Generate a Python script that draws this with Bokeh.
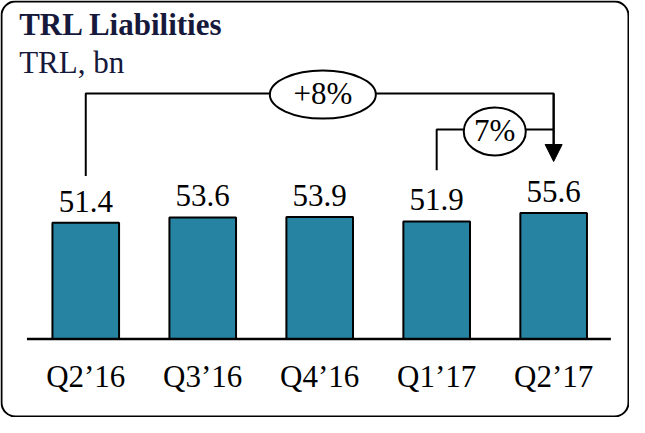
from bokeh.plotting import figure
from bokeh.models import ColumnDataSource, Range1d, Label, BoxAnnotation, Arrow, NormalHead
from bokeh.embed import file_html
from bokeh.resources import INLINE
from bokeh.core.properties import value

# ---- data ----
categories = ["Q2’16", "Q3’16", "Q4’16", "Q1’17", "Q2’17"]
values = [51.4, 53.6, 53.9, 51.9, 55.6]
value_labels = ["51.4", "53.6", "53.9", "51.9", "55.6"]
growth_labels = ["+8%", "7%"]
growth_from = [0, 3]   # category index where each bracket starts
growth_to = 4          # category index the brackets point at
title_text = "TRL Liabilities"
subtitle_text = "TRL, bn"

# ---- layout helpers ----
W, H = 629, 417
SX, SY = 627 / 640, 415 / 428          # reference layout -> canvas scale


def fx(px):   # reference x -> canvas x
    return 1 + (px - 2) * SX


def fy(py):   # reference y -> canvas y
    return 1 + (py - 2) * SY


X0, DX = fx(88.0), 119.4 * SX          # first category centre, spacing (canvas px)
PXU = 2.42 * SY                        # px per unit
YREF_PX, YREF_V = fy(225.64), 53.28


def xd(cx):
    return (cx - X0) / DX


def yd(cy):
    return YREF_V - (cy - YREF_PX) / PXU


def RX(px):
    return xd(fx(px))


def RY(py):
    return yd(fy(py))


FONT_NAME = "Liberation Serif"
FONT = value(FONT_NAME)
NAVY = "#16193b"
TEAL = "#2683a2"
FS = "31px"
BL = 9  # baseline correction (px)

p = figure(width=W, height=H, output_backend="svg", toolbar_location=None,
           x_range=Range1d(xd(0), xd(W)), y_range=Range1d(yd(H), yd(0)),
           x_axis_location=None, y_axis_location=None, min_border=0)
p.grid.visible = False
p.outline_line_color = None
p.background_fill_color = "white"
p.border_fill_color = "white"

base = RY(350)
idx = list(range(len(categories)))
src = ColumnDataSource(dict(x=idx, top=values, lab=value_labels, cat=categories,
                            base=[base] * len(idx)))

# rounded frame
p.add_layout(BoxAnnotation(left=xd(1), right=xd(628), top=yd(1), bottom=yd(416),
                           fill_alpha=0, line_color="black", line_alpha=1,
                           line_width=2, border_radius=14))

# bars
p.vbar(x="x", top="top", bottom="base", width=68 * SX / DX, source=src,
       fill_color=TEAL, line_color="black", line_width=2)

# baseline
p.line(x=[RX(28), RX(624)], y=[base, base], line_color="black", line_width=2.5)

# value labels
p.text(x="x", y="top", text="lab", source=src, y_offset=-13 * SY - BL,
       text_align="center", text_baseline="alphabetic",
       text_font=FONT, text_font_size=FS, text_color="black")

# category labels
p.text(x="x", y="base", text="cat", source=src, y_offset=48 * SY - BL,
       text_align="center", text_baseline="alphabetic",
       text_font=FONT, text_font_size=FS, text_color="black")

# title / subtitle
p.add_layout(Label(x=RX(20), y=RY(35), y_offset=BL, text=title_text, text_font=FONT_NAME,
                   text_font_size=FS, text_font_style="bold", text_color=NAVY,
                   text_baseline="alphabetic", text_align="left"))
p.add_layout(Label(x=RX(20), y=RY(74), y_offset=BL, text=subtitle_text, text_font=FONT_NAME,
                   text_font_size=FS, text_color=NAVY,
                   text_baseline="alphabetic", text_align="left"))

# growth brackets
top_y, low_y = RY(97), RY(134)
p.line(x=[growth_from[0], growth_from[0], growth_to, growth_to],
       y=[RY(182), top_y, top_y, RY(150)], line_color="black", line_width=2)
p.line(x=[growth_from[1], growth_from[1], growth_to],
       y=[RY(176), low_y, low_y], line_color="black", line_width=2)
p.add_layout(Arrow(end=NormalHead(size=17, fill_color="black", line_color="black"),
                   x_start=growth_to, y_start=top_y, x_end=growth_to, y_end=RY(167),
                   line_color="black", line_width=2))

ell_x = [RX(330), RX(505.5)]
ell_y = [RY(98), RY(136)]
p.ellipse(x=ell_x, y=ell_y, width=[106, 62], height=[48, 48],
          width_units="screen", height_units="screen",
          fill_color="white", line_color="black", line_width=2)
p.text(x=ell_x, y=ell_y, y_offset=-1, text=growth_labels, text_align="center",
       text_baseline="middle", text_font=FONT, text_font_size=FS, text_color="black")

open("out.html", "w").write(file_html(p, INLINE))
